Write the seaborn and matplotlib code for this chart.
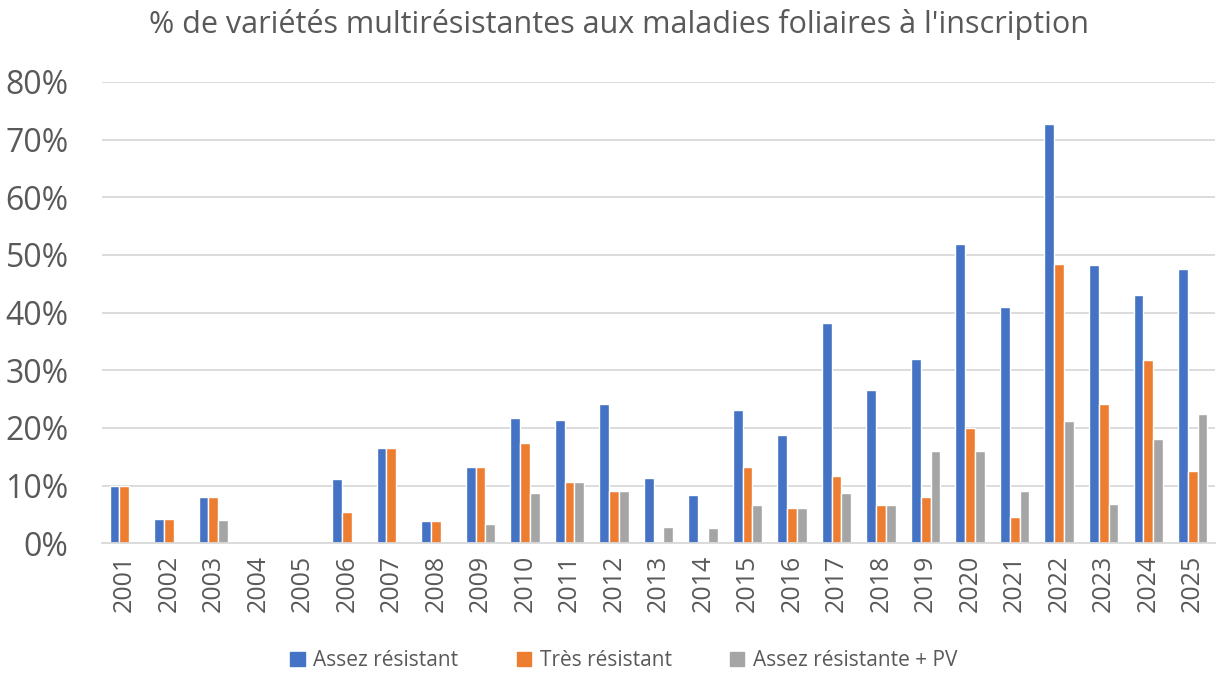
import matplotlib
matplotlib.use('Agg')
import matplotlib.pyplot as plt
import matplotlib.ticker as mticker
import pandas as pd
import seaborn as sns

years = [str(y) for y in range(2001, 2026)]

# values in %
assez_resistant = [10.0, 4.3, 8.0, 0, 0, 11.1, 16.6, 3.9, 13.2, 21.7, 21.4, 24.2, 11.3, 8.3, 23.2,
                   18.7, 38.2, 26.6, 31.9, 51.9, 40.9, 72.7, 48.3, 43.1, 47.5]
tres_resistant = [10.0, 4.3, 8.0, 0, 0, 5.5, 16.6, 3.9, 13.2, 17.4, 10.6, 9.1, 0, 0, 13.2,
                  6.2, 11.7, 6.6, 8.0, 20.0, 4.5, 48.4, 24.1, 31.8, 12.5]
assez_resistante_pv = [0, 0, 4.0, 0, 0, 0, 0, 0, 3.3, 8.7, 10.6, 9.1, 2.8, 2.7, 6.6,
                       6.2, 8.8, 6.6, 16.0, 16.0, 9.1, 21.2, 6.8, 18.1, 22.5]

series_names = ['Assez résistant', 'Très résistant', 'Assez résistante + PV']
colors = ['#4472C4', '#ED7D31', '#A5A5A5']
TEXT_COLOR = '#595959'
GRID_COLOR = '#D9D9D9'

df = pd.DataFrame({
    'year': years * 3,
    'value': [v / 100 for v in assez_resistant + tres_resistant + assez_resistante_pv],
    'serie': [series_names[0]] * 25 + [series_names[1]] * 25 + [series_names[2]] * 25,
})

sns.set_theme(style='white')
plt.rcParams['font.family'] = ['Open Sans', 'DejaVu Sans']

fig = plt.figure(figsize=(12.16, 6.92), dpi=100)
ax = fig.add_axes([102 / 1216, 1 - 543.3 / 692, (1215 - 102) / 1216, (543.3 - 82) / 692])

sns.barplot(data=df, x='year', y='value', hue='serie', palette=colors, ax=ax,
            width=0.66, edgecolor='white', linewidth=1.0, saturation=1)

ax.set_ylim(0, 0.8)
ax.set_xlim(-0.5, len(years) - 0.5)
ax.yaxis.set_major_locator(mticker.MultipleLocator(0.1))
ax.yaxis.set_major_formatter(mticker.PercentFormatter(1.0, decimals=0))
ax.grid(axis='y', color=GRID_COLOR, linewidth=1.3)
ax.set_axisbelow(True)
for side in ['top', 'right', 'left']:
    ax.spines[side].set_visible(False)
ax.spines['bottom'].set_color(GRID_COLOR)
ax.spines['bottom'].set_linewidth(1.3)
ax.tick_params(axis='both', length=0, colors=TEXT_COLOR)
ax.tick_params(axis='y', labelsize=23, pad=24)
ax.tick_params(axis='x', labelsize=18, rotation=90, pad=8)
ax.set_xlabel('')
ax.set_ylabel('')

ax.legend_.remove()
handles = [plt.Rectangle((0, 0), 1, 1, color=c) for c in colors]
fig.legend(handles, series_names, loc='center', bbox_to_anchor=(0.513, 0.045), ncol=3,
           frameon=False, fontsize=15, labelcolor=TEXT_COLOR, handlelength=0.7, handleheight=0.7,
           handletextpad=0.4, columnspacing=2.8)

fig.text(0.509, 1 - 24 / 692, "% de variétés multirésistantes aux maladies foliaires à l'inscription",
         ha='center', va='center', fontsize=22, color=TEXT_COLOR)

fig.savefig('out.png', dpi=100)
